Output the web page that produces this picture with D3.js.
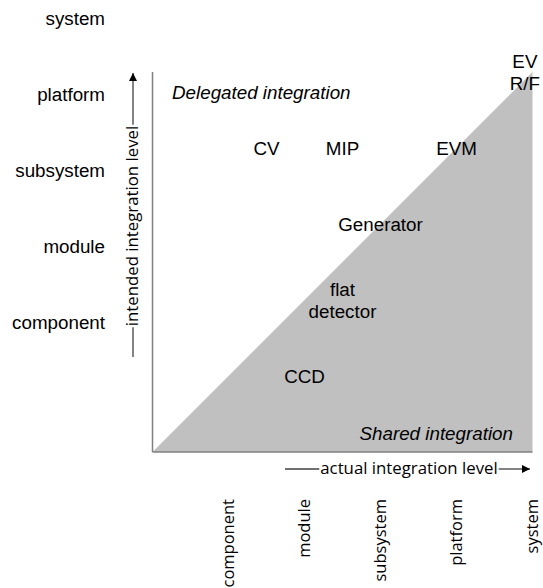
<!DOCTYPE html>
<html>
<head>
<meta charset="utf-8">
<script src="https://cdn.jsdelivr.net/npm/d3@7"></script>
<style>
  html, body { margin: 0; padding: 0; background: #fff; }
  svg { display: block; }
</style>
</head>
<body>
<svg id="chart" width="543" height="588"></svg>
<script>
// ---- data ----
const levels = ["component", "module", "subsystem", "platform", "system"];
const items = ["CV", "MIP", "EVM", "Generator", "flat detector", "CCD", "EV R/F"];
const itemActual = [1.5, 2.5, 4, 3, 2.5, 2, 4.9];     // actual integration level (plot units 0..5)
const itemIntended = [4, 4, 4, 3, 2, 1, 5];            // intended integration level (plot units 0..5)
const sharedRegion = [[0, 0], [5, 0], [5, 5]];         // area where actual >= intended
const regionLabels = ["Delegated integration", "Shared integration"];
const xTitle = "actual integration level";
const yTitle = "intended integration level";

// ---- layout ----
const svg = d3.select("#chart");
const x = d3.scaleLinear().domain([0, 5]).range([152.5, 532.5]);
const y = d3.scaleLinear().domain([0, 5]).range([452, 72]);
const xTick = d3.scalePoint().domain(levels).range([x(1), x(5)]);
const yTick = d3.scalePoint().domain(levels).range([322, 18]);

const armFont = "'Liberation Sans', Arial, sans-serif";
const calFont = "'Open Sans', Lato, sans-serif";
const armSize = 18.8;

// shaded triangle
svg.append("path")
  .attr("d", d3.line().x(d => x(d[0])).y(d => y(d[1]))(sharedRegion) + "Z")
  .attr("fill", "#c0c0c0");

// axes lines
svg.append("line").attr("x1", x(0)).attr("x2", x(0)).attr("y1", y(5)).attr("y2", y(0))
  .attr("stroke", "#808080").attr("stroke-width", 1.5);
svg.append("line").attr("x1", x(0)).attr("x2", x(5)).attr("y1", y(0)).attr("y2", y(0))
  .attr("stroke", "#808080").attr("stroke-width", 1.5);

// left tick labels
svg.append("g").selectAll("text").data(levels).join("text")
  .attr("x", 105).attr("y", d => yTick(d)).attr("dy", "0.35em")
  .attr("text-anchor", "end")
  .attr("font-family", armFont).attr("font-size", armSize).attr("fill", "#000")
  .text(d => d);

// bottom tick labels (rotated)
svg.append("g").selectAll("text").data(levels).join("text")
  .attr("transform", d => `translate(${xTick(d)},499) rotate(-90)`)
  .attr("dy", "0.35em")
  .attr("text-anchor", "end")
  .attr("font-family", calFont).attr("font-size", 16.5).attr("fill", "#000")
  .text(d => d);

// region labels
svg.append("text").attr("x", 172).attr("y", 92).attr("dy", "0.35em")
  .attr("font-family", armFont).attr("font-size", armSize).attr("font-style", "italic")
  .text(regionLabels[0]);
svg.append("text").attr("x", 513).attr("y", 433).attr("dy", "0.35em")
  .attr("text-anchor", "end")
  .attr("font-family", armFont).attr("font-size", armSize).attr("font-style", "italic")
  .text(regionLabels[1]);

// item labels
const lineH = 22;
const g = svg.append("g");
items.forEach((name, i) => {
  const parts = name === "flat detector" ? ["flat", "detector"]
              : name === "EV R/F" ? ["EV", "R/F"] : [name];
  const t = g.append("text")
    .attr("font-family", armFont).attr("font-size", armSize).attr("fill", "#000")
    .attr("text-anchor", "middle");
  parts.forEach((p, k) => {
    t.append("tspan")
      .attr("x", x(itemActual[i]))
      .attr("y", y(itemIntended[i]) + (k - (parts.length - 1) / 2) * lineH)
      .attr("dy", "0.35em")
      .text(p);
  });
});

// arrowheads
const defs = svg.append("defs");
defs.append("marker").attr("id", "arr")
  .attr("viewBox", "0 0 10 10").attr("refX", 10).attr("refY", 5)
  .attr("markerWidth", 12).attr("markerHeight", 8)
  .attr("markerUnits", "userSpaceOnUse")
  .attr("orient", "auto")
  .append("path").attr("d", "M0,0 L10,5 L0,10 Z").attr("fill", "#000");

// x title with arrow
const xt = svg.append("text").attr("x", 409).attr("y", 469).attr("dy", "0.32em")
  .attr("text-anchor", "middle")
  .attr("font-family", calFont).attr("font-size", 16.8).attr("fill", "#000")
  .text(xTitle);
const xb = xt.node().getBBox();
svg.append("line").attr("x1", 285).attr("x2", xb.x - 1).attr("y1", 469).attr("y2", 469)
  .attr("stroke", "#404040").attr("stroke-width", 1.3);
svg.append("line").attr("x1", xb.x + xb.width + 1).attr("x2", 530).attr("y1", 469).attr("y2", 469)
  .attr("stroke", "#404040").attr("stroke-width", 1.3).attr("marker-end", "url(#arr)");

// y title with arrow
const ytc = 226;
const yt = svg.append("text")
  .attr("transform", `translate(133,${ytc}) rotate(-90)`).attr("dy", "0.32em")
  .attr("text-anchor", "middle")
  .attr("font-family", calFont).attr("font-size", 16.8).attr("fill", "#000")
  .text(yTitle);
const yw = yt.node().getComputedTextLength();
svg.append("line").attr("x1", 133).attr("x2", 133).attr("y1", 357).attr("y2", ytc + yw / 2 + 1)
  .attr("stroke", "#404040").attr("stroke-width", 1.3);
svg.append("line").attr("x1", 133).attr("x2", 133).attr("y1", ytc - yw / 2 - 1).attr("y2", 73)
  .attr("stroke", "#404040").attr("stroke-width", 1.3).attr("marker-end", "url(#arr)");
</script>
</body>
</html>
